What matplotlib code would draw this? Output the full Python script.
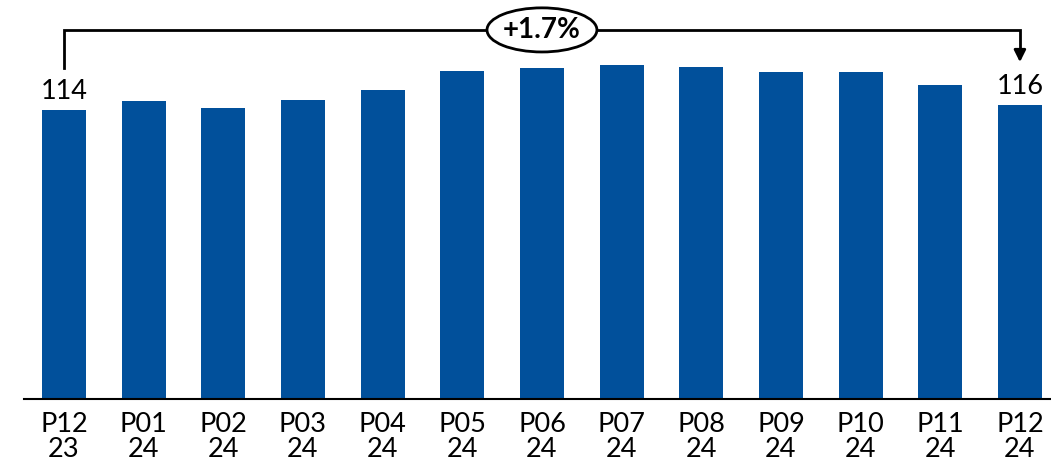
import matplotlib.pyplot as plt
from matplotlib.patches import Ellipse

periods = ['P12\n23', 'P01\n24', 'P02\n24', 'P03\n24', 'P04\n24', 'P05\n24', 'P06\n24',
           'P07\n24', 'P08\n24', 'P09\n24', 'P10\n24', 'P11\n24', 'P12\n24']
values = [114, 117.6, 114.9, 117.9, 121.9, 129.4, 130.4, 131.8, 130.8, 128.9, 128.9, 123.9, 116]
change_label = '+1.7%'

bar_color = '#01509b'
plt.rcParams['font.family'] = ['Lato', 'DejaVu Sans']

fig = plt.figure(figsize=(10.51, 4.63), dpi=100)
ax = fig.add_axes([24 / 1051, 64 / 463, 1027 / 1051, 399 / 463])

x = range(len(values))
ax.bar(x, values, width=0.552, color=bar_color)
ax.set_xlim(-0.502, 12.39)
ax.set_ylim(0, 157.4)

ax.set_xticks(list(x))
ax.set_xticklabels(periods, fontsize=19.5, linespacing=1.02)
ax.tick_params(axis='x', length=0, pad=9)
ax.set_yticks([])
for s in ['top', 'right', 'left']:
    ax.spines[s].set_visible(False)
ax.spines['bottom'].set_linewidth(1.5)

# end labels
last = len(values) - 1
ax.text(0, values[0] + 7.2, f'{values[0]:.0f}', ha='center', va='center', fontsize=19.5)
ax.text(last, values[-1] + 7.2, f'{values[-1]:.0f}', ha='center', va='center', fontsize=19.5)

# bracket with arrow
y_top = 145.6
ax.plot([0, 0, last, last], [values[0] + 16.6, y_top, y_top, values[-1] + 21],
        color='black', lw=2, solid_joinstyle='miter')
ax.annotate('', xy=(last, values[-1] + 16.9), xytext=(last, values[-1] + 21.5),
            arrowprops=dict(arrowstyle='-|>,head_length=0.7,head_width=0.35',
                            color='black', lw=2, shrinkA=0, shrinkB=0))

mid = last / 2
ax.add_patch(Ellipse((mid, y_top), 1.38, 17.4, facecolor='white', edgecolor='black', lw=2, zorder=5))
ax.text(mid, y_top, change_label, ha='center', va='center', fontsize=20, fontweight='bold', zorder=6)

fig.savefig('out.png', dpi=100)
